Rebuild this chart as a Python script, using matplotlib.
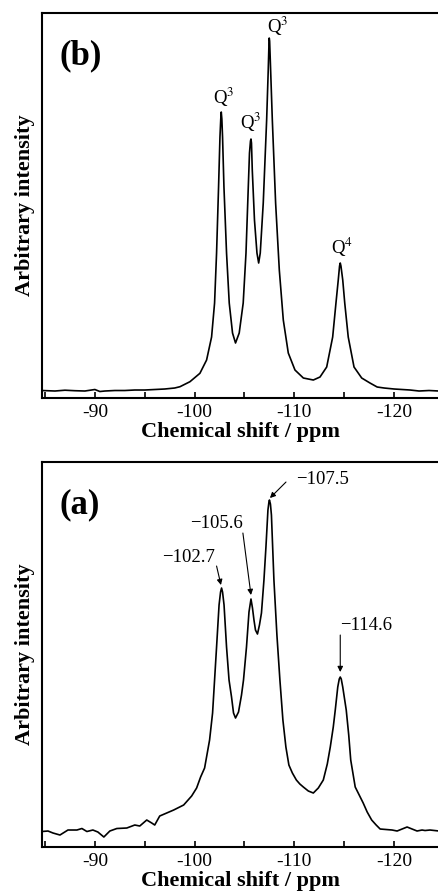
import matplotlib
matplotlib.use('Agg')
import matplotlib.pyplot as plt
from matplotlib.ticker import MultipleLocator

# Spectrum (b): chemical shift (ppm) and intensity
shift_b = [-84.7, -86.0, -87.0, -88.0, -89.0, -90.0, -90.5, -91.0, -92.0, -93.0,
           -94.0, -95.0, -96.0, -97.0, -98.0, -98.53, -99.53, -100.53, -101.2, -101.7,
           -102.0, -102.2, -102.4, -102.54, -102.62, -102.67, -102.73, -102.8, -102.94, -103.2,
           -103.47, -103.8, -104.1, -104.47, -104.87, -105.15, -105.38, -105.5, -105.6, -105.65,
           -105.7, -105.78, -106.0, -106.25, -106.42, -106.58, -106.88, -107.22, -107.38, -107.45,
           -107.48, -107.52, -107.62, -107.79, -108.12, -108.49, -108.89, -109.39, -110.06, -110.9,
           -111.9, -112.57, -113.24, -113.84, -114.17, -114.4, -114.53, -114.6, -114.67, -114.85,
           -115.05, -115.4, -115.98, -116.75, -117.58, -118.3, -119.0, -120.0, -121.6, -122.5,
           -123.5, -124.5]
int_b = [0.5, 0.0, 0.8, 0.3, 0.0, 1.5, -0.5, 0.0, 0.5, 0.5,
         1.0, 1.0, 1.5, 2.0, 3.0, 4.3, 9.3, 17.7, 31.0, 54.0,
         88.0, 138.0, 204.0, 254.0, 272.0, 279.0, 272.0, 254.0, 204.0, 138.0,
         88.0, 58.0, 48.0, 58.0, 88.0, 138.0, 204.0, 238.0, 250.0, 252.0,
         248.0, 221.0, 171.0, 138.0, 128.0, 138.0, 188.0, 271.0, 321.0, 346.0,
         353.0, 350.0, 321.0, 271.0, 188.0, 121.0, 71.0, 38.0, 21.0, 13.0,
         11.0, 14.0, 24.0, 54.0, 88.0, 111.0, 125.0, 128.0, 125.0, 111.0,
         88.0, 54.0, 24.0, 13.0, 8.0, 4.0, 3.0, 2.0, 1.0, 0.0,
         0.5, 0.0]

# Spectrum (a)
shift_a = [-84.7, -85.3, -85.8, -86.5, -87.3, -88.2, -88.7, -89.2, -89.8, -90.3,
           -90.9, -91.5, -92.2, -93.2, -94.0, -94.5, -95.2, -95.7, -96.0, -96.5,
           -97.2, -97.9, -98.9, -99.7, -100.2, -100.6, -101.0, -101.5, -101.8, -102.0,
           -102.2, -102.45, -102.6, -102.7, -102.8, -102.95, -103.2, -103.45, -103.7, -103.9,
           -104.1, -104.4, -104.7, -104.9, -105.2, -105.45, -105.65, -105.8, -105.95, -106.1,
           -106.3, -106.5, -106.7, -106.95, -107.15, -107.35, -107.45, -107.5, -107.6, -107.7,
           -107.95, -108.25, -108.55, -108.85, -109.15, -109.45, -109.8, -110.2, -110.55, -110.9,
           -111.4, -111.9, -112.4, -112.9, -113.3, -113.6, -113.9, -114.1, -114.35, -114.5,
           -114.6, -114.7, -114.85, -115.2, -115.45, -115.65, -115.9, -116.1, -116.5, -116.9,
           -117.3, -117.75, -118.2, -118.6, -119.2, -119.8, -120.3, -120.8, -121.3, -121.8,
           -122.3, -122.8, -123.1, -123.6, -124.5]
int_a = [-1.5, -1.0, -3.0, -5.0, 0.0, 0.0, 1.5, -1.5, 0.0, -2.0,
         -7.0, -1.0, 1.5, 2.0, 5.0, 4.0, 10.0, 7.0, 5.0, 14.0,
         17.0, 20.0, 25.0, 34.0, 42.0, 53.0, 62.0, 90.0, 117.0, 150.0,
         183.0, 225.0, 238.0, 242.0, 238.0, 225.0, 183.0, 150.0, 133.0, 117.0,
         112.0, 118.0, 135.0, 150.0, 183.0, 218.0, 231.0, 222.0, 210.0, 200.0,
         196.0, 205.0, 217.0, 250.0, 283.0, 320.0, 328.0, 330.0, 326.0, 315.0,
         250.0, 195.0, 150.0, 110.0, 83.0, 65.0, 57.0, 50.0, 46.0, 43.0,
         39.0, 37.0, 42.0, 50.0, 66.0, 83.0, 103.0, 120.0, 143.0, 151.0,
         153.0, 151.0, 143.0, 120.0, 95.0, 70.0, 55.0, 43.0, 35.0, 27.0,
         18.0, 10.0, 5.0, 1.0, 0.5, 0.0, -1.0, 1.0, 3.0, 1.0,
         -1.0, 0.0, -0.5, 0.0, -1.0]

# Peak labels
q_labels_b = ['Q$^3$', 'Q$^3$', 'Q$^3$', 'Q$^4$']
q_pos_b = [(-102.94, 294), (-105.65, 269), (-108.35, 365), (-114.8, 144)]

peak_labels_a = ['\u2212102.7', '\u2212105.6', '\u2212107.5', '\u2212114.6']
peak_heads_a = [(-102.64, 245), (-105.65, 235), (-107.55, 332), (-114.6, 158)]
peak_texts_a = [(-99.43, 273), (-102.19, 307), (-112.82, 351), (-117.18, 205)]
peak_tails_a = [(-102.2, 264), (-104.84, 297), (-109.16, 348), (-114.6, 195)]


def style_axis(ax, ylim, letter):
    ax.set_xlim(-84.7, -124.5)
    ax.set_ylim(ylim)
    ax.xaxis.set_major_locator(MultipleLocator(10))
    ax.xaxis.set_minor_locator(MultipleLocator(5))
    ax.tick_params(axis='x', which='both', direction='in', length=4, width=1.2,
                   top=False, labelsize=14, pad=4)
    ax.set_yticks([])
    ax.spines['right'].set_visible(False)
    for s in ['left', 'top', 'bottom']:
        ax.spines[s].set_linewidth(1.5)
    ax.set_xlabel('Chemical shift / ppm', fontsize=16, fontweight='bold', labelpad=1)
    ax.set_ylabel('Arbitrary intensity', fontsize=16, fontweight='bold', labelpad=5)
    ax.text(0.045, 0.89, letter, transform=ax.transAxes, fontsize=25,
            fontweight='bold', ha='left', va='center')


def main():
    plt.rcParams['font.family'] = ['Liberation Serif', 'DejaVu Serif']
    plt.rcParams['mathtext.fontset'] = 'stix'
    plt.rcParams['axes.unicode_minus'] = False

    fig = plt.figure(figsize=(4.39, 8.93), dpi=100)

# Top panel (b)
    ax_b = fig.add_axes([0.0957, 0.5543, 0.9043, 0.4311])
    ax_b.plot(shift_b, int_b, color='black', lw=1.2)
    style_axis(ax_b, (-7, 378), '(b)')
    for lab, (x, y) in zip(q_labels_b, q_pos_b):
        ax_b.text(x, y, lab, fontsize=13.5, ha='center', va='center')

# Bottom panel (a)
    ax_a = fig.add_axes([0.0957, 0.0515, 0.9043, 0.4311])
    ax_a.plot(shift_a, int_a, color='black', lw=1.2)
    style_axis(ax_a, (-17, 368), '(a)')
    for lab, head, txt, tail in zip(peak_labels_a, peak_heads_a, peak_texts_a, peak_tails_a):
        ax_a.text(txt[0], txt[1], lab, fontsize=13.5, ha='center', va='center')
        ax_a.annotate('', xy=head, xytext=tail,
                      arrowprops=dict(arrowstyle='-|>', lw=0.8, color='black',
                                      mutation_scale=8, shrinkA=0, shrinkB=0))

    fig.savefig('out.png', dpi=100)


if __name__ == '__main__':
    main()
